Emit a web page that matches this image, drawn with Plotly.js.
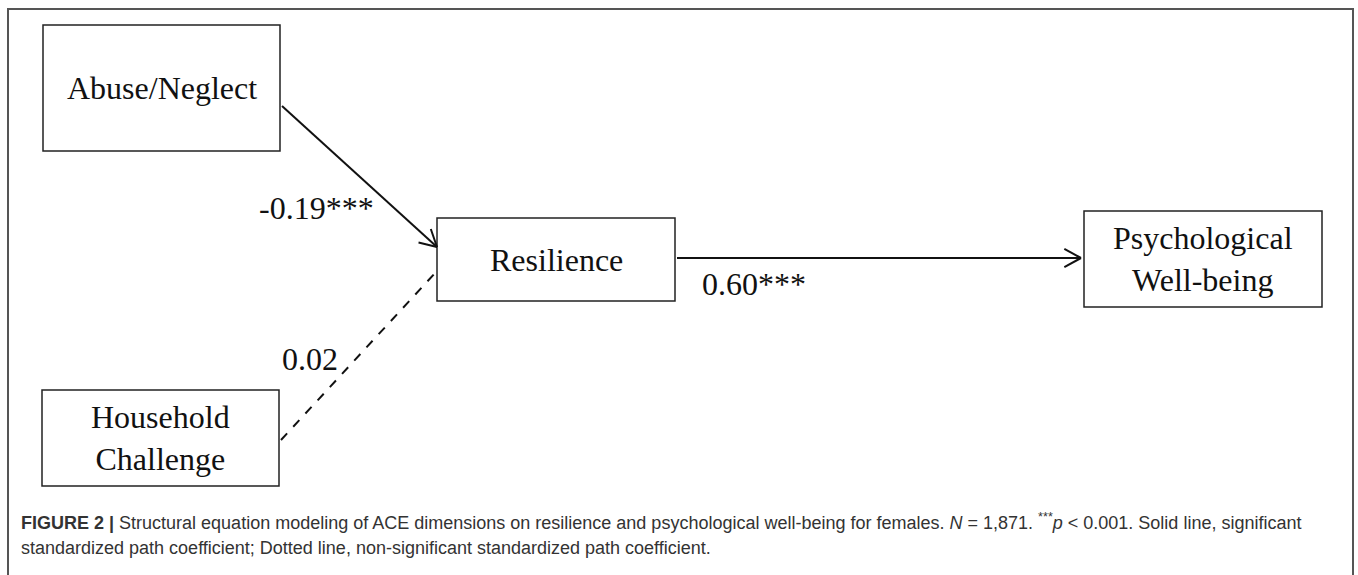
<!DOCTYPE html>
<html>
<head>
<meta charset="utf-8">
<script src="https://cdn.plot.ly/plotly-3.0.1.min.js"></script>
<style>html,body{margin:0;padding:0;background:#fff;}#chart{width:1358px;height:575px;}</style>
</head>
<body>
<div id="chart"></div>
<script>
// ---- data ----
var nodeNames = ["Abuse/Neglect", "Household<br>Challenge", "Resilience", "Psychological<br>Well-being"];
var pathFrom = [0, 1, 2];
var pathTo = [2, 2, 3];
var pathCoef = ["-0.19***", "0.02", "0.60***"];
var pathSignificant = [true, false, true];
var captionLine1 = "<b>FIGURE 2 |</b> Structural equation modeling of ACE dimensions on resilience and psychological well-being for females. <i>N</i> = 1,871. <sup>***</sup><i>p</i> &lt; 0.001. Solid line, significant";
var captionLine2 = "standardized path coefficient; Dotted line, non-significant standardized path coefficient.";

// ---- layout geometry (positions / sizes) ----
var boxes = [
  {x0: 43, x1: 280, y0: 25, y1: 151},
  {x0: 42, x1: 279, y0: 390, y1: 486},
  {x0: 437, x1: 675, y0: 218, y1: 301},
  {x0: 1084, x1: 1322, y0: 211, y1: 307}
];
var pathGeom = [
  {sx: 282, sy: 106, ex: 437, ey: 247, lx: 316, ly: 208, head: true},
  {sx: 281, sy: 440, ex: 437, ey: 271, lx: 310, ly: 359, head: false},
  {sx: 677, sy: 258, ex: 1081, ey: 258, lx: 754, ly: 284, head: true}
];

var shapes = [];
var annotations = [];
// outer frame
shapes.push({type: "rect", xref: "x", yref: "y", x0: 8, x1: 1353, y0: 9, y1: 590,
  line: {color: "#555", width: 2}});

boxes.forEach(function (b, i) {
  shapes.push({type: "rect", xref: "x", yref: "y", x0: b.x0, x1: b.x1, y0: b.y0, y1: b.y1,
    line: {color: "#222", width: 1.5}, fillcolor: "rgba(0,0,0,0)"});
  annotations.push({xref: "x", yref: "y", x: (b.x0 + b.x1) / 2, y: (b.y0 + b.y1) / 2,
    text: nodeNames[i], showarrow: false,
    font: {family: "Liberation Serif, Times New Roman, serif", size: 32, color: "#111"}});
});

pathFrom.forEach(function (f, k) {
  var g = pathGeom[k];
  shapes.push({type: "line", xref: "x", yref: "y", x0: g.sx, y0: g.sy, x1: g.ex, y1: g.ey,
    line: {color: "#111", width: 2, dash: pathSignificant[k] ? "solid" : "dash"}});
  if (g.head) {
    var ang = Math.atan2(g.ey - g.sy, g.ex - g.sx);
    var L = 19, a = 0.5;
    [ang + Math.PI - a, ang + Math.PI + a].forEach(function (t) {
      shapes.push({type: "line", xref: "x", yref: "y", x0: g.ex, y0: g.ey,
        x1: g.ex + L * Math.cos(t), y1: g.ey + L * Math.sin(t),
        line: {color: "#111", width: 2}});
    });
  }
  annotations.push({xref: "x", yref: "y", x: g.lx, y: g.ly, text: pathCoef[k], showarrow: false,
    font: {family: "Liberation Serif, Times New Roman, serif", size: 32, color: "#111"}});
});

annotations.push({xref: "x", yref: "y", x: 19, y: 521, xanchor: "left", text: captionLine1, showarrow: false,
  font: {family: "Liberation Sans, Arial, sans-serif", size: 18, color: "#333"}});
annotations.push({xref: "x", yref: "y", x: 19, y: 548, xanchor: "left", text: captionLine2, showarrow: false,
  font: {family: "Liberation Sans, Arial, sans-serif", size: 18, color: "#333"}});

var layout = {
  width: 1358, height: 575,
  margin: {l: 0, r: 0, t: 0, b: 0},
  paper_bgcolor: "#fff", plot_bgcolor: "#fff",
  xaxis: {range: [0, 1358], visible: false, fixedrange: true},
  yaxis: {range: [575, 0], visible: false, fixedrange: true},
  showlegend: false,
  shapes: shapes,
  annotations: annotations
};
Plotly.newPlot("chart", [{x: [], y: [], type: "scatter", mode: "markers"}], layout, {displayModeBar: false, staticPlot: true});
</script>
</body>
</html>
